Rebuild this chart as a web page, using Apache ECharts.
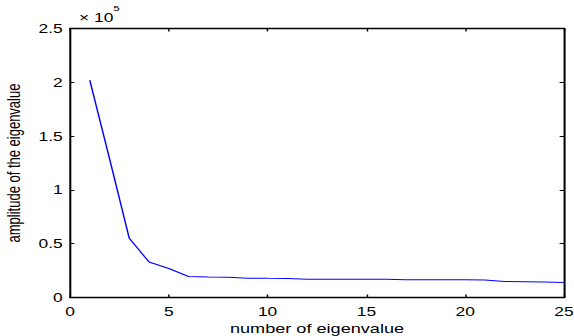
<!DOCTYPE html>
<html>
<head>
<meta charset="utf-8">
<script src="https://cdn.jsdelivr.net/npm/echarts@6/dist/echarts.min.js"></script>
<style>
  html, body { margin: 0; padding: 0; background: #fff; overflow: hidden; }
  /* the original figure is stretched horizontally, so draw narrower and widen it */
  #chart { width: 396px; height: 336px; transform: scaleX(1.4495); transform-origin: 0 0; }
</style>
</head>
<body>
<div id="chart"></div>
<script>
// eigenvalue index and amplitude
const eigenIndex = [1, 2, 3, 4, 5, 6, 7, 8, 9, 10, 11, 12, 13, 14, 15, 16, 17, 18, 19, 20, 21, 22, 23, 24, 25];
const amplitude = [
  202000, 129000, 55000, 33000, 27000, 19500, 19000, 18800, 18000, 17800,
  17700, 17000, 17000, 17000, 17000, 17000, 16500, 16500, 16500, 16500,
  16300, 14800, 14700, 14500, 14000,
];
const xTicks = [0, 5, 10, 15, 20, 25];
const yTicks = [0, 0.5, 1, 1.5, 2, 2.5];

const font = "Liberation Sans, Arial, sans-serif";
const chart = echarts.init(document.getElementById("chart"), null, { renderer: "svg" });

const axisCommon = {
  axisLine: { show: true, onZero: false, lineStyle: { color: "#000", width: 1.4 } },
  axisTick: { show: true, inside: true, length: 3, lineStyle: { color: "#000", width: 1 } },
  splitLine: { show: false },
};

chart.setOption({
  animation: false,
  backgroundColor: "#fff",
  title: {
    text: "{a|× 10}{s|5}",
    left: 49.5,
    top: -1,
    textStyle: {
      fontWeight: "normal",
      rich: {
        a: { fontFamily: font, fontSize: 12, color: "#000", verticalAlign: "bottom", lineHeight: 20 },
        s: { fontFamily: font, fontSize: 8, color: "#000", verticalAlign: "top", lineHeight: 20 },
      },
    },
  },
  grid: {
    left: 48.3, right: 6.9, top: 28.5, bottom: 38.5,
    containLabel: false, outerBoundsMode: "none",
  },
  xAxis: [
    {
      ...axisCommon,
      type: "value",
      min: 0,
      max: 25,
      interval: 5,
      position: "bottom",
      name: "number of eigenvalue",
      nameLocation: "middle",
      nameGap: 25,
      nameTextStyle: { fontFamily: font, fontSize: 12.5, color: "#000" },
      axisLabel: {
        fontFamily: font, fontSize: 12, color: "#000", margin: 8,
        formatter: (v) => (xTicks.includes(v) ? String(v) : ""),
      },
    },
    {
      ...axisCommon,
      type: "value",
      min: 0,
      max: 25,
      interval: 5,
      position: "top",
      axisLabel: { show: false },
    },
  ],
  yAxis: [
    {
      ...axisCommon,
      type: "value",
      min: 0,
      max: 250000,
      interval: 50000,
      position: "left",
      name: "amplitude of the eigenvalue",
      nameLocation: "middle",
      nameGap: 32,
      nameRotate: 90,
      nameTextStyle: { fontFamily: font, fontSize: 13, color: "#000" },
      axisLabel: {
        fontFamily: font, fontSize: 12, color: "#000", margin: 5,
        formatter: (v) => String(yTicks.find((t) => Math.abs(t * 1e5 - v) < 1) ?? ""),
      },
    },
    {
      ...axisCommon,
      type: "value",
      min: 0,
      max: 250000,
      interval: 50000,
      position: "right",
      axisLabel: { show: false },
    },
  ],
  series: [
    {
      type: "line",
      data: eigenIndex.map((x, i) => [x, amplitude[i]]),
      showSymbol: false,
      lineStyle: { color: "#0000ff", width: 1 },
      xAxisIndex: 0,
      yAxisIndex: 0,
    },
  ],
});
</script>
</body>
</html>
